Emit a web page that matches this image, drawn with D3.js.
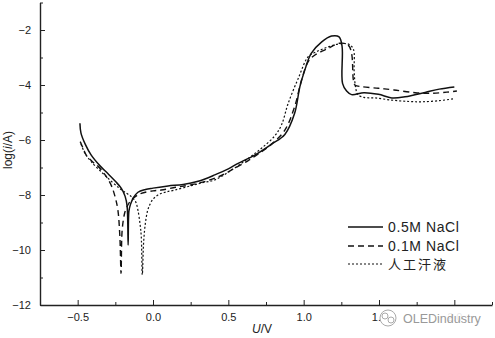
<!DOCTYPE html>
<html>
<head>
<meta charset="utf-8">
<script src="https://cdn.jsdelivr.net/npm/d3@7"></script>
<style>
  body { margin: 0; background: #fff; }
  svg { display: block; font-family: "Liberation Sans", Arial, sans-serif; }
  .axis path, .axis line { stroke: #222; }
  .axis text { font-size: 11px; fill: #222; }
</style>
</head>
<body>
<script>
// polarisation curves, [U (V), log(i/A)]
var seriesNames = ["0.5M NaCl", "0.1M NaCl", "人工汗液"];

var nacl05 = [
  [-0.485,-5.39],[-0.478,-5.75],[-0.45,-6.15],[-0.41,-6.55],[-0.35,-6.95],[-0.30,-7.22],
  [-0.25,-7.5],[-0.21,-7.76],[-0.185,-8.05],[-0.172,-8.4],[-0.165,-9.82],[-0.16,-8.6],
  [-0.15,-8.35],[-0.13,-8.1],[-0.10,-7.9],[-0.05,-7.8],[0.0,-7.75],[0.10,-7.67],
  [0.20,-7.62],[0.30,-7.5],[0.41,-7.27],[0.50,-7.05],[0.565,-6.85],[0.675,-6.55],
  [0.787,-6.15],[0.875,-5.8],[0.94,-5.03],[0.975,-4.06],[1.008,-3.45],[1.05,-2.85],
  [1.12,-2.43],[1.185,-2.22],[1.235,-2.25],[1.255,-2.6],[1.258,-3.94],[1.285,-4.22],
  [1.318,-4.35],[1.40,-4.28],[1.496,-4.34],[1.585,-4.47],[1.673,-4.43],[1.806,-4.27],
  [1.90,-4.15],[2.0,-4.07]
];

var nacl01 = [
  [-0.483,-6.06],[-0.46,-6.35],[-0.443,-6.55],[-0.40,-6.8],[-0.366,-6.95],[-0.32,-7.25],
  [-0.277,-7.65],[-0.25,-8.1],[-0.233,-8.55],[-0.22,-9.5],[-0.212,-10.85],[-0.205,-9.3],
  [-0.19,-8.7],[-0.178,-8.5],[-0.16,-8.3],[-0.144,-8.18],[-0.11,-8.03],[-0.078,-7.94],
  [0.0,-7.85],[0.055,-7.82],[0.15,-7.72],[0.243,-7.64],[0.35,-7.5],[0.45,-7.3],
  [0.55,-7.0],[0.632,-6.75],[0.70,-6.5],[0.787,-6.15],[0.875,-5.64],[0.94,-4.79],
  [0.986,-3.82],[1.03,-3.15],[1.075,-2.91],[1.163,-2.67],[1.24,-2.48],[1.296,-2.55],
  [1.318,-2.85],[1.33,-3.82],[1.34,-4.0],[1.385,-4.06],[1.496,-4.12],[1.60,-4.18],
  [1.74,-4.28],[1.85,-4.30],[1.95,-4.26],[2.017,-4.22]
];

var sweat = [
  [-0.478,-6.15],[-0.45,-6.5],[-0.41,-6.79],[-0.322,-7.27],[-0.222,-7.76],[-0.18,-7.92],
  [-0.144,-8.06],[-0.115,-8.25],[-0.1,-8.55],[-0.085,-9.1],[-0.078,-9.5],[-0.071,-10.9],
  [-0.062,-9.7],[-0.05,-9.0],[-0.035,-8.55],[-0.022,-8.36],[0.0,-8.15],[0.033,-8.0],
  [0.08,-7.9],[0.144,-7.82],[0.255,-7.66],[0.33,-7.55],[0.41,-7.45],[0.52,-7.1],
  [0.632,-6.67],[0.72,-6.3],[0.808,-5.85],[0.853,-5.45],[0.897,-4.67],[0.964,-3.76],
  [1.03,-2.97],[1.08,-2.8],[1.16,-2.62],[1.24,-2.5],[1.30,-2.52],[1.33,-2.7],
  [1.335,-3.5],[1.345,-4.1],[1.36,-4.35],[1.40,-4.45],[1.473,-4.47],[1.585,-4.55],
  [1.70,-4.6],[1.784,-4.61],[1.90,-4.57],[2.0,-4.5]
];

var xTicks = [-0.5, 0.0, 0.5, 1.0, 1.5, 2.0];
var xMinorTicks = [-0.75, -0.25, 0.25, 0.75, 1.25, 1.75, 2.25];
var yTicks = [-12, -10, -8, -6, -4, -2];
var yMinorTicks = [-11, -9, -7, -5, -3, -1];

var W = 495, H = 338;
var plotLeft = 40, plotRight = 492, plotTop = 2.5, plotBottom = 305;

var svg = d3.select("body").append("svg")
    .attr("width", W)
    .attr("height", H);

var x = d3.scaleLinear().domain([-0.75, 2.25]).range([plotLeft, plotRight]);
var y = d3.scaleLinear().domain([-12, -1]).range([plotBottom, plotTop]);

// minor ticks first, then the main axes over them
svg.append("g")
    .attr("class", "axis")
    .attr("transform", "translate(0," + plotBottom + ")")
    .call(d3.axisBottom(x).tickValues(xMinorTicks).tickSize(-3).tickFormat(""))
    .call(function(g){ g.select(".domain").remove(); });

svg.append("g")
    .attr("class", "axis")
    .attr("transform", "translate(" + plotLeft + ",0)")
    .call(d3.axisLeft(y).tickValues(yMinorTicks).tickSize(-3).tickFormat(""))
    .call(function(g){ g.select(".domain").remove(); });

var xAxis = svg.append("g")
    .attr("class", "axis")
    .attr("transform", "translate(0," + plotBottom + ")")
    .call(d3.axisBottom(x).tickValues(xTicks).tickSizeInner(-5).tickSizeOuter(0)
        .tickPadding(8).tickFormat(d3.format(".1f")));
xAxis.select(".domain").attr("stroke-width", 1.4);

var yAxis = svg.append("g")
    .attr("class", "axis")
    .attr("transform", "translate(" + plotLeft + ",0)")
    .call(d3.axisLeft(y).tickValues(yTicks).tickSizeInner(-5).tickSizeOuter(0)
        .tickPadding(9).tickFormat(d3.format("d")));
yAxis.select(".domain").attr("stroke-width", 1.4);

// axis titles
var yt = svg.append("text")
    .attr("transform", "translate(12,150) rotate(-90)")
    .attr("text-anchor", "middle")
    .attr("font-size", 12)
    .attr("fill", "#222");
yt.append("tspan").text("log(");
yt.append("tspan").attr("font-style", "italic").text("i");
yt.append("tspan").text("/A)");

var xt = svg.append("text")
    .attr("x", 262)
    .attr("y", 333)
    .attr("text-anchor", "middle")
    .attr("font-size", 12)
    .attr("fill", "#222");
xt.append("tspan").attr("font-style", "italic").text("U");
xt.append("tspan").text("/V");

// curves
var line = d3.line()
    .x(function(d){ return x(d[0]); })
    .y(function(d){ return y(d[1]); })
    .curve(d3.curveCatmullRom.alpha(0.5));

var series = [
  {name: seriesNames[0], data: nacl05, dash: null, width: 1.5},
  {name: seriesNames[1], data: nacl01, dash: "6,4", width: 1.4},
  {name: seriesNames[2], data: sweat, dash: "2,2", width: 1.2}
];

svg.selectAll(".curve")
    .data(series)
    .enter().append("path")
    .attr("class", "curve")
    .attr("d", function(d){ return line(d.data); })
    .attr("fill", "none")
    .attr("stroke", "#111")
    .attr("stroke-width", function(d){ return d.width; })
    .attr("stroke-dasharray", function(d){ return d.dash; });

// legend
var legend = svg.append("g").attr("transform", "translate(348,227)");
var row = legend.selectAll("g")
    .data(series)
    .enter().append("g")
    .attr("transform", function(d, i){ return "translate(0," + [0, 19, 37][i] + ")"; });
row.append("line")
    .attr("x1", 0).attr("x2", 35)
    .attr("stroke", "#111")
    .attr("stroke-width", function(d){ return d.width; })
    .attr("stroke-dasharray", function(d){ return d.dash; });
row.append("text")
    .attr("x", 40)
    .attr("y", function(d, i){ return i === 2 ? 5 : 5; })
    .attr("font-size", function(d, i){ return i === 2 ? 13 : 14; })
    .attr("fill", "#222")
    .attr("font-family", function(d, i){ return i === 2 ? "'Noto Sans CJK SC', sans-serif" : null; })
    .attr("letter-spacing", function(d, i){ return i === 2 ? 2 : 0.6; })
    .text(function(d){ return d.name; });

// watermark, drawn over the last tick labels as in the source image
var wm = svg.append("g");
wm.append("rect").attr("x", 398).attr("y", 311).attr("width", 86).attr("height", 17)
    .attr("fill", "#fff").attr("opacity", 0.9);
wm.append("circle").attr("cx", 388).attr("cy", 318).attr("r", 8)
    .attr("fill", "#fff").attr("stroke", "#aaa").attr("stroke-width", 1);
wm.append("circle").attr("cx", 385).attr("cy", 316).attr("r", 3)
    .attr("fill", "none").attr("stroke", "#aaa");
wm.append("circle").attr("cx", 391).attr("cy", 320).attr("r", 3)
    .attr("fill", "none").attr("stroke", "#aaa");
wm.append("text")
    .attr("x", 403).attr("y", 323)
    .attr("font-size", 12.5)
    .attr("fill", "#999")
    .text("OLEDindustry");
</script>
</body>
</html>
